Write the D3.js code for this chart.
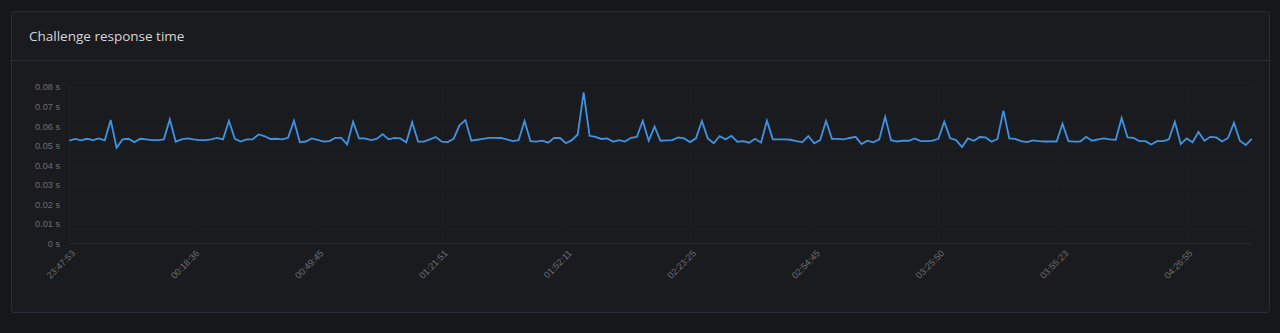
<!DOCTYPE html>
<html>
<head>
<meta charset="utf-8">
<script src="https://cdn.jsdelivr.net/npm/d3@7"></script>
<style>
  html, body { margin: 0; padding: 0; background: #161719; }
  svg { display: block; }
</style>
</head>
<body>
<svg id="chart" width="1280" height="333"></svg>
<script>
const title = "Challenge response time";
const yTicks = [0, 0.01, 0.02, 0.03, 0.04, 0.05, 0.06, 0.07, 0.08];
const tickLabels = ["23:47:53", "00:18:36", "00:49:45", "01:21:51", "01:52:11",
                    "02:23:25", "02:54:45", "03:25:50", "03:55:23", "04:26:55"];
const labelStep = 21;
const responseTimes = [
  0.0525, 0.0534, 0.0527, 0.0535, 0.0528, 0.0537, 0.0527, 0.0631, 0.0489, 0.0532,
  0.0535, 0.0518, 0.0535, 0.0532, 0.0528, 0.0528, 0.0532, 0.0634, 0.0520, 0.0532,
  0.0537, 0.0532, 0.0528, 0.0528, 0.0532, 0.0539, 0.0532, 0.0627, 0.0535, 0.0521,
  0.0532, 0.0532, 0.0557, 0.0549, 0.0534, 0.0535, 0.0532, 0.0540, 0.0627, 0.0517,
  0.0521, 0.0537, 0.0530, 0.0521, 0.0523, 0.0540, 0.0540, 0.0506, 0.0622, 0.0537,
  0.0537, 0.0528, 0.0534, 0.0559, 0.0532, 0.0539, 0.0537, 0.0517, 0.0620, 0.0520,
  0.0520, 0.0532, 0.0544, 0.0520, 0.0518, 0.0535, 0.0604, 0.0631, 0.0525, 0.0530,
  0.0535, 0.0540, 0.0540, 0.0539, 0.0532, 0.0523, 0.0528, 0.0626, 0.0523, 0.0520,
  0.0525, 0.0515, 0.0540, 0.0539, 0.0512, 0.0528, 0.0557, 0.0773, 0.0550, 0.0545,
  0.0534, 0.0537, 0.0520, 0.0528, 0.0521, 0.0540, 0.0544, 0.0627, 0.0525, 0.0597,
  0.0525, 0.0527, 0.0528, 0.0542, 0.0537, 0.0518, 0.0537, 0.0626, 0.0537, 0.0512,
  0.0549, 0.0532, 0.0550, 0.0520, 0.0523, 0.0515, 0.0535, 0.0515, 0.0627, 0.0532,
  0.0532, 0.0532, 0.0530, 0.0523, 0.0518, 0.0549, 0.0512, 0.0528, 0.0626, 0.0535,
  0.0534, 0.0532, 0.0539, 0.0545, 0.0508, 0.0525, 0.0517, 0.0532, 0.0647, 0.0528,
  0.0521, 0.0525, 0.0525, 0.0537, 0.0523, 0.0523, 0.0525, 0.0535, 0.0622, 0.0537,
  0.0528, 0.0493, 0.0537, 0.0525, 0.0544, 0.0542, 0.0520, 0.0534, 0.0679, 0.0537,
  0.0534, 0.0523, 0.0518, 0.0527, 0.0523, 0.0521, 0.0521, 0.0521, 0.0612, 0.0523,
  0.0520, 0.0521, 0.0545, 0.0525, 0.0532, 0.0537, 0.0532, 0.0530, 0.0641, 0.0542,
  0.0540, 0.0523, 0.0523, 0.0506, 0.0523, 0.0523, 0.0532, 0.0622, 0.0508, 0.0537,
  0.0517, 0.0570, 0.0525, 0.0545, 0.0542, 0.0521, 0.0539, 0.0617, 0.0525, 0.0503,
  0.0535
];

const svg = d3.select("#chart");

// panel
svg.append("rect")
  .attr("x", 11.5).attr("y", 11.5).attr("width", 1258).attr("height", 301)
  .attr("rx", 3).attr("fill", "#1a1b1e").attr("stroke", "#2a2c3a");
svg.append("line")
  .attr("x1", 12).attr("x2", 1269).attr("y1", 60.5).attr("y2", 60.5)
  .attr("stroke", "#2a2c3a");
svg.append("text")
  .attr("x", 29).attr("y", 41)
  .attr("fill", "#d4d5d8")
  .attr("font-family", "'Open Sans', 'Noto Sans', sans-serif")
  .attr("font-size", 13.5)
  .text(title);

const x = d3.scaleLinear().domain([0, responseTimes.length - 1]).range([69.3, 1251.7]);
const y = d3.scaleLinear().domain([0, 0.08]).range([243.3, 87]);

// grid
const g = svg.append("g");
g.selectAll("line.hg").data(yTicks).join("line")
  .attr("x1", 69).attr("x2", 1252)
  .attr("y1", d => Math.round(y(d)) + 0.5).attr("y2", d => Math.round(y(d)) + 0.5)
  .attr("stroke", "#ffffff").attr("stroke-opacity", d => d === 0 ? 0.05 : 0.015);
const tickIdx = tickLabels.map((_, i) => i * labelStep);
g.selectAll("line.vg").data(tickIdx).join("line")
  .attr("x1", d => Math.round(x(d)) + 0.5).attr("x2", d => Math.round(x(d)) + 0.5)
  .attr("y1", 87).attr("y2", 243)
  .attr("stroke", "#ffffff").attr("stroke-opacity", d => d === 0 ? 0.03 : 0.012);

// y axis
const yAxis = d3.axisLeft(y).tickValues(yTicks).tickSize(0).tickPadding(0)
  .tickFormat(d => (d === 0 ? "0" : d3.format(".2f")(d)) + " s");
const ya = svg.append("g").attr("transform", "translate(60,0)").call(yAxis);
ya.select(".domain").remove();
ya.selectAll("text")
  .attr("fill", "#6c6d70")
  .attr("font-family", "'Liberation Sans', Arial, sans-serif")
  .attr("font-size", 9.2);

// x axis
const xAxis = d3.axisBottom(x).tickValues(tickIdx).tickSize(0).tickPadding(0)
  .tickFormat((d, i) => tickLabels[i]);
const xa = svg.append("g").attr("transform", "translate(0,243)").call(xAxis);
xa.select(".domain").remove();
xa.selectAll("text")
  .attr("fill", "#6c6d70")
  .attr("font-family", "'Liberation Sans', Arial, sans-serif")
  .attr("font-size", 9.2)
  .attr("text-anchor", "end")
  .attr("dy", "0")
  .attr("transform", "translate(6,11) rotate(-45)");

// line
const line = d3.line().x((d, i) => x(i)).y(d => y(d));
svg.append("path")
  .datum(responseTimes)
  .attr("d", line)
  .attr("fill", "none")
  .attr("stroke", "#3f93e4")
  .attr("stroke-width", 1.8)
  .attr("stroke-linejoin", "miter");
</script>
</body>
</html>
